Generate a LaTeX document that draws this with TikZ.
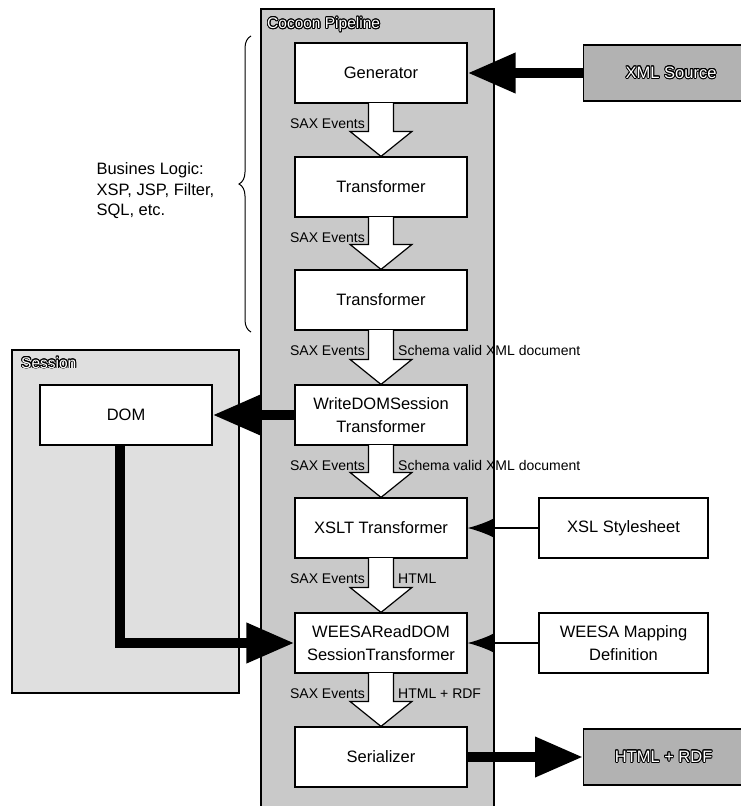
\documentclass[tikz,border=0pt]{standalone}
\usepackage{fontspec}
\setmainfont{Liberation Sans}
\usepackage{contour}
\contourlength{0.9pt}
\usetikzlibrary{arrows.meta,calc,decorations.pathreplacing}

\tikzset{
  stage/.style={draw,line width=1.2pt,fill=white,minimum width=172pt,minimum height=60pt,align=center,font=\fontsize{16.5}{23}\selectfont},
  extbox/.style={draw,line width=1.2pt,fill=gray!60,minimum height=56pt,font=\fontsize{16.5}{20}\selectfont},
  boxtitle/.style={anchor=west,inner sep=0pt,font=\fontsize{15.5}{18}\selectfont},
  flowlabel/.style={inner sep=1pt,font=\fontsize{14}{16}\selectfont},
  bigarrow/.style={line width=10pt,-{Triangle[length=48pt,width=38pt]}},
  feed/.style={line width=1.2pt,-{Latex[length=26pt,width=19pt]}},
}
\newcommand{\outlined}[1]{{\color{white}\contour{black}{#1}}}
\newcommand{\pipe}[3]{%
  \filldraw[fill=white,line width=1.2pt] ($(#1.south)+(-12.5,-0.6)$) -- ($(#2.north)+(-12.5,-25)$)
    -- ($(#2.north)+(-31,-25)$) -- (#2.north) -- ($(#2.north)+(31,-25)$)
    -- ($(#2.north)+(12.5,-25)$) -- ($(#1.south)+(12.5,-0.6)$);
  \node[flowlabel,anchor=east] (#1-sax) at ($(#1.south)+(-15,20)$) {SAX Events};
  \node[flowlabel,anchor=west] (#1-out) at ($(#1.south)+(16,20)$) {#3};
}

\begin{document}
\begin{tikzpicture}[x=1pt,y=-1pt]
  \useasboundingbox (0,0) rectangle (741,806);
  \filldraw[fill=gray!42,line width=1.2pt] (261,9) rectangle (494,812);
  \node[boxtitle] (pipetitle) at (267,25) {\outlined{Cocoon Pipeline}};
  \filldraw[fill=gray!25,line width=1.2pt] (12,350) rectangle (239,693);
  \node[boxtitle] (sestitle) at (21,363) {\outlined{Session}};

  \node[stage] (gen) at (381,73) {Generator};
  \node[stage] (tr1) at (381,187) {Transformer};
  \node[stage] (tr2) at (381,300) {Transformer};
  \node[stage] (wds) at (381,415) {WriteDOMSession\\Transformer};
  \node[stage] (xslt) at (381,528) {XSLT Transformer};
  \node[stage] (weesa) at (381,643) {WEESAReadDOM\\SessionTransformer};
  \node[stage] (ser) at (381,757) {Serializer};

  \node[stage] (dom) at (126,415) {DOM};
  \node[stage,minimum width=169pt] (xsl) at (623.5,528) {XSL Stylesheet};
  \node[stage,minimum width=169pt] (map) at (623.5,643) {WEESA Mapping\\Definition};
  \node[extbox,anchor=west,minimum width=175pt] (xml) at (583,73) {\outlined{XML Source}};
  \node[extbox,anchor=west,minimum width=160pt] (html) at (583,757) {\outlined{HTML + RDF}};

  \pipe{gen}{tr1}{}
  \pipe{tr1}{tr2}{}
  \pipe{tr2}{wds}{Schema valid XML document}
  \pipe{wds}{xslt}{Schema valid XML document}
  \pipe{xslt}{weesa}{HTML}
  \pipe{weesa}{ser}{HTML + RDF}

  \draw[bigarrow] (xml.west) -- (gen.east);
  \draw[bigarrow] (wds.west) -- (dom.east);
  \draw[bigarrow] ([xshift=-6pt]dom.south) |- (weesa.west);
  \draw[bigarrow] (ser.east) -- (html.west);
  \draw[feed] (xsl.west) -- (xslt.east);
  \draw[feed] (map.west) -- (weesa.east);

  \draw[decorate,decoration={brace,amplitude=12pt},line width=1pt] (251,332) -- (251,36);
  \node[anchor=west,align=left,font=\fontsize{16.5}{20.5}\selectfont] (logic) at (93,191) {Busines Logic:\\XSP, JSP, Filter,\\SQL, etc.};
\end{tikzpicture}
\end{document}
